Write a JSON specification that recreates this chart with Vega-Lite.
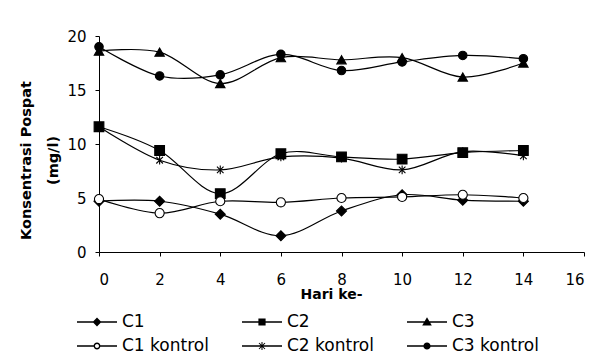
{
  "$schema": "https://vega.github.io/schema/vega-lite/v6.json",
  "width": 485,
  "height": 216,
  "autosize": {"type": "none"},
  "padding": {"left": 99, "top": 36, "right": 12, "bottom": 108},
  "background": "white",
  "config": {
    "view": {"stroke": null},
    "font": "DejaVu Sans",
    "axis": {
      "domainColor": "black", "tickColor": "black", "labelColor": "black", "titleColor": "black",
      "grid": false, "labelFont": "DejaVu Sans", "titleFont": "DejaVu Sans",
      "labelFontSize": 15, "titleFontSize": 14, "titleFontWeight": "bold",
      "tickSize": 4, "domainWidth": 1, "tickWidth": 1
    }
  },
  "data": {
    "values": [
      {"hari": 0, "series": "C1", "value": 4.7},
      {"hari": 2, "series": "C1", "value": 4.7},
      {"hari": 4, "series": "C1", "value": 3.5},
      {"hari": 6, "series": "C1", "value": 1.5},
      {"hari": 8, "series": "C1", "value": 3.8},
      {"hari": 10, "series": "C1", "value": 5.3},
      {"hari": 12, "series": "C1", "value": 4.8},
      {"hari": 14, "series": "C1", "value": 4.7},
      {"hari": 0, "series": "C2", "value": 11.6},
      {"hari": 2, "series": "C2", "value": 9.4},
      {"hari": 4, "series": "C2", "value": 5.4},
      {"hari": 6, "series": "C2", "value": 9.1},
      {"hari": 8, "series": "C2", "value": 8.8},
      {"hari": 10, "series": "C2", "value": 8.6},
      {"hari": 12, "series": "C2", "value": 9.2},
      {"hari": 14, "series": "C2", "value": 9.4},
      {"hari": 0, "series": "C3", "value": 18.6},
      {"hari": 2, "series": "C3", "value": 18.5},
      {"hari": 4, "series": "C3", "value": 15.6},
      {"hari": 6, "series": "C3", "value": 18.0},
      {"hari": 8, "series": "C3", "value": 17.8},
      {"hari": 10, "series": "C3", "value": 18.0},
      {"hari": 12, "series": "C3", "value": 16.2},
      {"hari": 14, "series": "C3", "value": 17.5},
      {"hari": 0, "series": "C1 kontrol", "value": 4.9},
      {"hari": 2, "series": "C1 kontrol", "value": 3.6},
      {"hari": 4, "series": "C1 kontrol", "value": 4.7},
      {"hari": 6, "series": "C1 kontrol", "value": 4.6},
      {"hari": 8, "series": "C1 kontrol", "value": 5.0},
      {"hari": 10, "series": "C1 kontrol", "value": 5.1},
      {"hari": 12, "series": "C1 kontrol", "value": 5.3},
      {"hari": 14, "series": "C1 kontrol", "value": 5.0},
      {"hari": 0, "series": "C2 kontrol", "value": 11.6},
      {"hari": 2, "series": "C2 kontrol", "value": 8.5},
      {"hari": 4, "series": "C2 kontrol", "value": 7.6},
      {"hari": 6, "series": "C2 kontrol", "value": 8.8},
      {"hari": 8, "series": "C2 kontrol", "value": 8.7},
      {"hari": 10, "series": "C2 kontrol", "value": 7.6},
      {"hari": 12, "series": "C2 kontrol", "value": 9.3},
      {"hari": 14, "series": "C2 kontrol", "value": 8.9},
      {"hari": 0, "series": "C3 kontrol", "value": 19.0},
      {"hari": 2, "series": "C3 kontrol", "value": 16.3},
      {"hari": 4, "series": "C3 kontrol", "value": 16.4},
      {"hari": 6, "series": "C3 kontrol", "value": 18.3},
      {"hari": 8, "series": "C3 kontrol", "value": 16.8},
      {"hari": 10, "series": "C3 kontrol", "value": 17.6},
      {"hari": 12, "series": "C3 kontrol", "value": 18.2},
      {"hari": 14, "series": "C3 kontrol", "value": 17.9}
    ]
  },
  "encoding": {
    "x": {
      "field": "hari", "type": "quantitative",
      "scale": {"domain": [0, 16], "nice": false, "zero": false},
      "axis": {"values": [0, 2, 4, 6, 8, 10, 12, 14, 16], "title": "Hari ke-", "labelPadding": 16, "titleX": 232, "titleY": 35, "titleBaseline": "top"}
    },
    "y": {
      "field": "value", "type": "quantitative",
      "scale": {"domain": [0, 20], "nice": false},
      "axis": {"values": [0, 5, 10, 15, 20], "title": ["Konsentrasi Pospat", "(mg/l)"], "titleFontSize": 14.5, "titleLineHeight": 27, "labelPadding": 9, "titlePadding": 6, "titleY": 124}
    }
  },
  "layer": [
    {
      "mark": {"type": "line", "interpolate": "cardinal", "color": "black", "strokeWidth": 1.2},
      "encoding": {"detail": {"field": "series", "type": "nominal"}}
    },
    {
      "mark": {"type": "point", "filled": true, "stroke": "black", "strokeWidth": 1.1, "opacity": 1},
      "encoding": {
        "shape": {
          "field": "series", "type": "nominal", "legend": null,
          "scale": {
            "domain": ["C1", "C2", "C3", "C1 kontrol", "C2 kontrol", "C3 kontrol"],
            "range": ["diamond", "square", "triangle-up", "circle", "M-0.75,-0.75L0.75,0.75M0.75,-0.75L-0.75,0.75M0,-1V1", "circle"]
          }
        },
        "fill": {
          "field": "series", "type": "nominal", "legend": null,
          "scale": {
            "domain": ["C1", "C2", "C3", "C1 kontrol", "C2 kontrol", "C3 kontrol"],
            "range": ["black", "black", "black", "white", "black", "black"]
          }
        },
        "size": {
          "field": "series", "type": "nominal", "legend": null,
          "scale": {
            "domain": ["C1", "C2", "C3", "C1 kontrol", "C2 kontrol", "C3 kontrol"],
            "range": [100, 72, 100, 60, 81, 81]
          }
        }
      }
    },
    {
      "mark": {"type": "point", "filled": true, "fill": "black", "opacity": 0},
      "encoding": {
        "shape": {
          "field": "series", "type": "nominal",
          "scale": {
            "domain": ["C1", "C2", "C3", "C1 kontrol", "C2 kontrol", "C3 kontrol"],
            "range": [
              "M-1,-0.035H1V0.035H-1ZM-0.22,0L0,-0.22L0.22,0L0,0.22Z",
              "M-1,-0.035H1V0.035H-1ZM-0.18,-0.18H0.18V0.18H-0.18Z",
              "M-1,-0.035H1V0.035H-1ZM0,-0.24L0.24,0.18H-0.24Z",
              "M-1,-0.035H-0.16V0.035H-1ZM0.16,-0.035H1V0.035H0.16ZM-0.17,0A0.17,0.17,0,0,1,0.17,0A0.17,0.17,0,0,1,-0.17,0ZM-0.1,0A0.1,0.1,0,0,0,0.1,0A0.1,0.1,0,0,0,-0.1,0Z",
              "M-1,-0.035H1V0.035H-1ZM-0.132,-0.168L0.168,0.132L0.132,0.168L-0.168,-0.132ZM0.168,-0.132L-0.132,0.168L-0.168,0.132L0.132,-0.168ZM-0.025,-0.2H0.025V0.2H-0.025Z",
              "M-1,-0.035H1V0.035H-1ZM-0.18,0A0.18,0.18,0,0,1,0.18,0A0.18,0.18,0,0,1,-0.18,0Z"
            ]
          },
          "legend": {
            "title": null, "orient": "none", "legendX": -22, "legendY": 274,
            "direction": "horizontal", "columns": 3, "gridAlign": "all",
            "symbolSize": 1600, "symbolStrokeWidth": 0,
            "symbolFillColor": "black", "symbolOpacity": 1, "clipHeight": 24,
            "labelFont": "DejaVu Sans", "labelFontSize": 17, "labelColor": "black",
            "labelOffset": 5, "columnPadding": 33, "rowPadding": 0, "padding": 0, "labelLimit": 0,
            "encode": {
              "symbols": {
                "update": {
                  "fill": {"value": "black"},
                  "opacity": {"value": 1}
                }
              }
            }
          }
        }
      }
    }
  ],
  "resolve": {"scale": {"shape": "independent", "fill": "independent", "size": "independent"}}
}
